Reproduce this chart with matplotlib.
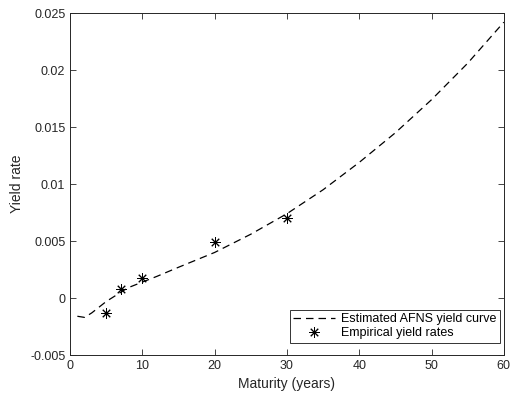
import matplotlib
matplotlib.use("Agg")
import matplotlib.pyplot as plt

# estimated AFNS yield curve
curve_x = [1, 2, 3, 4, 5, 6, 7, 8, 10, 12, 15, 20, 25, 30, 35, 40, 45, 50, 55, 60]
curve_y = [-0.0016, -0.0017, -0.0013, -0.0008, -0.0003, 0.0001, 0.0005, 0.0009,
           0.0014, 0.0019, 0.0027, 0.0040, 0.0056, 0.0074, 0.0095, 0.0119,
           0.0145, 0.0174, 0.0206, 0.0242]

# empirical yields
emp_x = [5, 7, 10, 20, 30]
emp_y = [-0.0013, 0.0008, 0.0018, 0.0049, 0.0070]

xticks = [0, 10, 20, 30, 40, 50, 60]
yticks = [-0.005, 0, 0.005, 0.01, 0.015, 0.02, 0.025]
ytick_labels = ["-0.005", "0", "0.005", "0.01", "0.015", "0.02", "0.025"]

plt.rcParams['font.family'] = ['Liberation Sans', 'DejaVu Sans']

fig = plt.figure(figsize=(5.12, 3.96), dpi=100)
ax = fig.add_axes([0.137, 0.1035, 0.847, 0.8635])

ax.plot(curve_x, curve_y, color='black', linestyle=(0, (6, 4)), linewidth=0.9,
        label='Estimated AFNS yield curve')
ax.plot(emp_x, emp_y, linestyle='none', marker=(8, 2, 0), markersize=7.5,
        markeredgewidth=0.7, color='black', label='Empirical yield rates')

ax.set_xlim(0, 60)
ax.set_ylim(-0.005, 0.025)
ax.set_xticks(xticks)
ax.set_yticks(yticks)
ax.set_yticklabels(ytick_labels)
ax.tick_params(direction='in', top=True, right=True, labelsize=9, length=4,
               width=0.6, colors='0.15')
for s in ax.spines.values():
    s.set_color('0.15')
    s.set_linewidth(0.7)

ax.set_xlabel('Maturity (years)', fontsize=10, color='0.15')
ax.set_ylabel('Yield rate', fontsize=10, color='0.15')

leg = ax.legend(loc='lower right', bbox_to_anchor=(500 / 512, 53 / 396),
                bbox_transform=fig.transFigure, fontsize=9, frameon=True,
                fancybox=False, edgecolor='black', borderpad=0.3,
                handlelength=3.3, labelspacing=0.15, borderaxespad=0,
                handletextpad=0.5)
leg.get_frame().set_linewidth(0.7)

fig.savefig('out.png', dpi=100)
